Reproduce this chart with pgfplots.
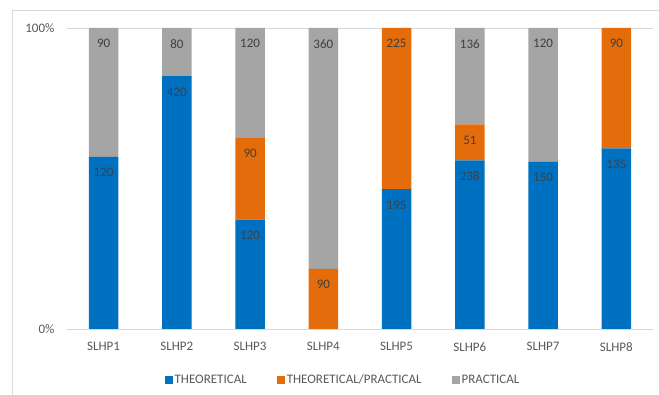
\documentclass[border=0pt]{standalone}
\usepackage{pgfplots}
\usepackage{pgfplotstable}
\pgfplotsset{compat=1.18}
\usepackage{fontspec}
\setmainfont{Carlito}
\definecolor{cblue}{HTML}{0070C0}
\definecolor{corange}{HTML}{E46C0A}
\definecolor{cgray}{HTML}{A5A5A5}
\definecolor{ctext}{HTML}{595959}
\definecolor{clabel}{HTML}{404040}
\definecolor{cgrid}{HTML}{D9D9D9}

\pgfplotstableread{
x T TP P
0 120 0 90
1 420 0 80
2 120 90 120
3 0 90 360
4 195 225 0
5 238 51 136
6 150 0 120
7 135 90 0
}\data

\begin{document}
\begin{tikzpicture}[x=1pt,y=1pt]
\useasboundingbox (0,0) rectangle (659,395);
\draw[cgrid, line width=0.75pt] (12,-10) -- (12,385) -- (680,385);
\begin{axis}[
  at={(67pt,66pt)}, anchor=south west,
  scale only axis, width=586pt, height=301pt,
  ybar stacked, bar width=0.4,
  xmin=-0.5, xmax=7.5, ymin=0, ymax=100,
  xtick={0,...,7},
  xticklabels={SLHP1,SLHP2,SLHP3,SLHP4,SLHP5,SLHP6,SLHP7,SLHP8},
  ytick={0,100}, yticklabels={0\%,100\%},
  ymajorgrids, grid style={cgrid, line width=0.75pt},
  axis line style={draw=none}, major tick length=0pt,
  tick label style={font=\fontsize{13}{15}\selectfont, text=ctext},
  xticklabel style={yshift=-10pt},
  yticklabel style={xshift=-9pt},
  point meta=explicit symbolic,
  nodes near coords={\ifnum\pgfplotspointmeta=0 \else\pgfplotspointmeta\fi},
  every node near coord/.append style={anchor=north, yshift={(\ry*1.505-8)*1pt}, font=\fontsize{13}{15}\selectfont, text=clabel},
  legend style={at={(0.471,-0.169)}, anchor=center, draw=none, legend columns=3,
    font=\fontsize{13}{15}\selectfont, text=ctext,
    /tikz/every even column/.append style={column sep=28pt}},
  legend image code/.code={\fill[#1] (0pt,-4pt) rectangle (8pt,4pt);},
]
\addplot[fill=cblue, draw=none, visualization depends on={\thisrow{T}*100/(\thisrow{T}+\thisrow{TP}+\thisrow{P}) \as \ry}] table[x=x, y expr=\thisrow{T}*100/(\thisrow{T}+\thisrow{TP}+\thisrow{P}), meta=T] {\data};
\addplot[fill=corange, draw=none, visualization depends on={\thisrow{TP}*100/(\thisrow{T}+\thisrow{TP}+\thisrow{P}) \as \ry}] table[x=x, y expr=\thisrow{TP}*100/(\thisrow{T}+\thisrow{TP}+\thisrow{P}), meta=TP] {\data};
\addplot[fill=cgray, draw=none, visualization depends on={\thisrow{P}*100/(\thisrow{T}+\thisrow{TP}+\thisrow{P}) \as \ry}] table[x=x, y expr=\thisrow{P}*100/(\thisrow{T}+\thisrow{TP}+\thisrow{P}), meta=P] {\data};
\legend{THEORETICAL, THEORETICAL/PRACTICAL, PRACTICAL}
\end{axis}
\end{tikzpicture}
\end{document}
